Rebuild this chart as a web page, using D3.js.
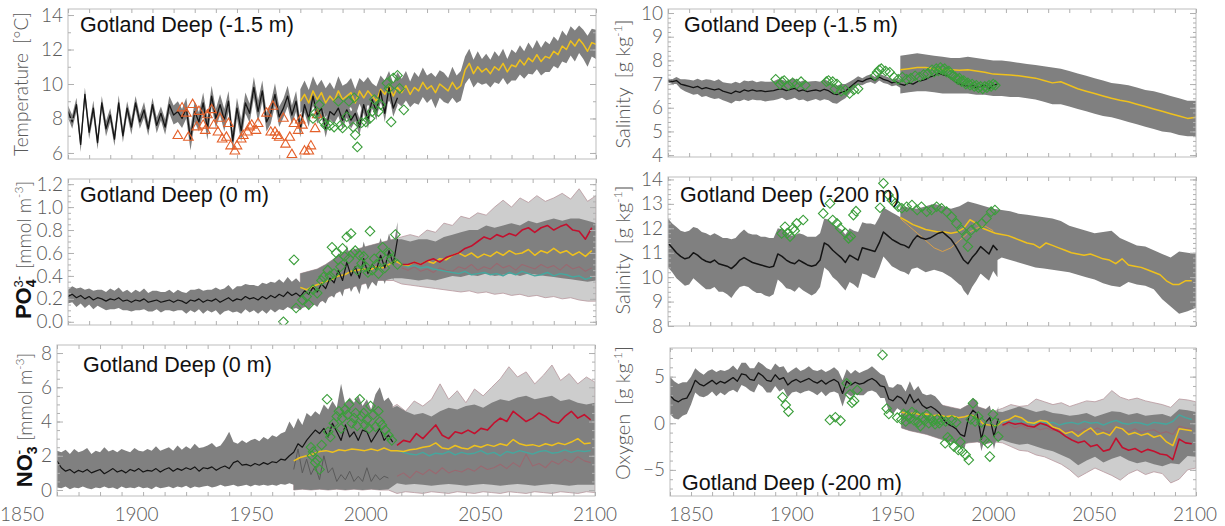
<!DOCTYPE html>
<html><head><meta charset="utf-8">
<script src="https://cdn.jsdelivr.net/npm/d3@7"></script>
<style>
body{margin:0;background:#fff;}
svg{display:block;}
</style></head><body>
<svg id="chart" width="1225" height="526"></svg>
<script>
// ---------- data: Gotland Deep, hindcast 1850-2006 (2-yr steps) and scenarios 1960-2100 ----------
const hindStart = 1850, hindStep = 2;

// Surface temperature (-1.5 m)
const tempHind = [8.4,7.8,8.8,6.5,9.4,7.2,8.6,6.6,8.9,7.4,8.2,6.8,8.9,7.0,8.6,7.5,8.9,7.8,8.5,7.4,8.8,7.6,8.3,7.5,8.8,
  8.2,8.4,8.0,8.6,6.8,8.4,7.8,8.9,7.4,9.3,8.0,8.8,7.9,9.0,6.7,8.6,7.3,8.9,8.3,9.8,8.4,9.6,7.8,8.3,9.4,
  8.1,8.6,9.3,8.2,9.0,7.4,8.8,8.0,9.3,8.2,8.6,7.4,8.4,8.2,8.6,7.9,8.5,7.9,8.3,7.5,8.8,7.9,9.1,8.4,9.6,
  8.3,9.8,8.6,9.2];
const tempHindSpread = [0.35,0.4,0.4,0.45,0.4,0.4,0.45,0.4,0.4,0.45,0.4,0.4,0.45,0.4,0.4,0.45,0.4,0.4,0.45,0.4,0.4,0.45,0.4,0.45,0.5,
  0.55,0.6,0.55,0.6,0.65,0.6,0.55,0.6,0.65,0.6,0.55,0.6,0.65,0.6,0.55,0.6,0.65,0.6,0.55,0.6,0.65,0.6,0.55,0.6,0.65,
  0.6,0.55,0.6,0.55,0.6,0.5,0.45,0.5,0.45,0.5,0.45,0.5,0.45,0.5,0.45,0.5,0.45,0.5,0.45,0.5,0.45,0.5,0.45,0.5,0.45,
  0.5,0.45,0.5,0.45];
const tempScen = [9.0,9.4,8.9,9.6,9.1,9.5,8.9,9.3,9.0,9.6,9.1,9.3,9.5,8.9,9.6,9.2,9.6,9.3,9.0,9.7,
  9.4,9.9,9.3,9.8,9.5,9.9,9.4,9.8,9.6,10.1,9.7,9.9,9.5,10.0,9.8,9.6,10.1,9.7,9.9,10.8,
  11.2,10.6,11.0,10.7,10.9,10.6,11.0,10.8,11.2,10.7,11.1,11.0,11.4,11.1,11.5,11.3,11.7,11.3,11.6,11.5,
  11.9,11.7,12.2,12.0,12.5,12.2,12.6,12.3,11.9,12.4,12.3];
const tempScenSpread = [0.7,0.8,0.75,0.85,0.8,0.75,0.85,0.8,0.7,0.85,0.8,0.75,0.85,0.8,0.75,0.9,0.8,0.75,0.85,0.8,
  0.8,0.85,0.75,0.9,0.8,0.85,0.75,0.9,0.8,0.85,0.8,0.75,0.9,0.8,0.85,0.75,0.9,0.8,0.85,0.8,
  0.85,0.8,0.9,0.75,0.85,0.8,0.9,0.8,0.85,0.75,0.9,0.8,0.85,0.8,0.9,0.75,0.85,0.8,0.9,0.8,
  0.85,0.8,0.9,0.8,0.85,0.9,0.8,0.85,0.9,0.8,0.85];
const tempObsA = [[1902,7.0],[1904,8.6],[1906,8.3],[1907,6.9],[1909,8.8],[1911,7.5],[1912,8.4],[1914,7.6],[1915,7.3],[1916,8.2],
  [1918,8.5],[1919,7.6],[1921,7.2],[1922,8.0],[1923,6.8],[1925,6.9],[1926,7.7],[1927,6.4],[1929,6.1],[1930,6.4],[1932,6.8],
  [1933,7.0],[1935,7.2],[1936,7.5],[1937,7.6],[1939,7.3],[1940,7.7],[1944,8.3],[1946,7.2],[1947,8.7],[1948,7.2],[1949,7.0],
  [1950,6.9],[1952,8.0],[1953,6.5],[1955,6.9],[1956,5.9],[1957,7.7],[1959,7.3],[1960,7.9],[1961,7.6],[1962,6.1],[1964,6.1],
  [1965,6.4],[1967,7.4],[1968,8.2]];
const tempObsB = [[1966,8.0],[1967,8.3],[1969,8.8],[1971,7.8],[1972,7.6],[1974,7.6],[1976,7.5],[1978,9.0],[1979,7.6],[1980,7.45],
  [1982,8.1],[1983,9.0],[1985,7.5],[1985.5,9.2],[1986,7.05],[1987,6.35],[1989,7.75],[1991,7.8],[1993,8.0],[1994,8.4],[1995,9.1],
  [1997,8.4],[1998,8.8],[2001,10.05],[2002,9.75],[2003,7.8],[2004,10.35],[2006,10.5],[2007,9.75],[2009,8.5]];

// Surface salinity (-1.5 m)
const salSHind = [7.15,7.1,7.15,7.0,6.95,6.9,6.85,6.9,6.8,6.85,6.8,6.75,6.8,6.7,6.65,6.6,6.7,6.65,6.75,6.7,6.75,6.7,6.72,6.68,6.7,
  6.72,6.78,6.8,6.72,6.78,6.82,6.7,6.75,6.68,6.72,6.75,6.7,6.78,6.72,6.6,6.55,6.65,6.7,6.85,7.0,7.15,7.1,7.2,7.25,7.15,
  7.3,7.2,7.15,7.05,7.1,7.0,6.95,7.05,7.0,7.1,7.15,7.2,7.3,7.35,7.45,7.4,7.35,7.25,7.1,7.0,6.95,6.9,6.95,6.85,6.9,
  6.95,6.8,6.95,7.0];
const salSHindSpread = [0.08,0.1,0.15,0.2,0.25,0.28,0.3,0.32,0.35,0.35,0.38,0.38,0.4,0.38,0.4,0.42,0.4,0.38,0.4,0.42,0.4,0.38,0.4,0.42,0.4,
  0.4,0.42,0.38,0.4,0.42,0.4,0.38,0.4,0.42,0.4,0.38,0.4,0.42,0.4,0.4,0.38,0.35,0.3,0.25,0.2,0.18,0.15,0.15,0.16,0.15,
  0.15,0.16,0.15,0.14,0.15,0.16,0.15,0.14,0.15,0.16,0.15,0.14,0.15,0.16,0.15,0.14,0.15,0.16,0.15,0.14,0.15,0.16,0.15,0.14,0.15,
  0.15,0.16,0.15,0.14];
const salSScen = [7.6,7.65,7.7,7.7,7.65,7.62,7.6,7.58,7.6,7.55,7.5,7.42,7.4,7.38,7.35,7.3,7.25,7.15,7.05,7.1,
  6.95,6.8,6.7,6.6,6.5,6.4,6.32,6.25,6.15,6.05,5.95,5.85,5.75,5.65,5.55,5.6];
const salSScenHi = [8.2,8.25,8.3,8.25,8.2,8.15,8.1,8.1,8.15,8.1,8.05,8.0,8.0,7.95,7.9,7.85,7.8,7.75,7.7,7.65,
  7.55,7.45,7.35,7.25,7.15,7.05,7.0,6.95,6.85,6.75,6.7,6.6,6.5,6.4,6.3,6.3];
const salSScenLo = [6.6,6.65,6.7,6.7,6.65,6.6,6.6,6.6,6.6,6.55,6.55,6.5,6.5,6.45,6.45,6.4,6.35,6.25,6.15,6.15,
  6.05,5.95,5.85,5.75,5.65,5.6,5.5,5.4,5.3,5.2,5.1,5.0,4.95,4.85,4.8,4.8];
const salSObs = [[1901,7.2],[1903,7.0],[1904,7.1],[1905,7.15],[1907,6.95],[1909,7.05],[1911,7.0],[1913,7.1],[1915,6.95],[1925,7.1],
  [1926,7.15],[1928,7.1],[1929,6.8],[1930,7.0],[1932,6.7],[1934,6.75],[1936,6.6],[1938,6.75],[1940,6.8],[1948,7.35],[1949,7.5],
  [1950,7.6],[1951,7.65],[1953,7.55],[1955,7.5],[1957,7.3],[1959,7.2],[1961,7.3],[1963,7.2],[1965,7.25],[1967,7.35],[1969,7.3],
  [1971,7.4],[1973,7.45],[1975,7.6],[1976,7.5],[1977,7.65],[1978,7.55],[1979,7.7],[1980,7.6],[1981,7.65],[1982,7.5],[1983,7.55],
  [1984,7.4],[1985,7.35],[1986,7.3],[1987,7.2],[1988,7.25],[1989,7.1],[1990,7.15],[1991,7.0],[1992,7.05],[1993,6.95],[1994,7.0],
  [1995,6.9],[1996,6.95],[1997,6.85],[1998,6.9],[1999,6.8],[2000,6.9],[2001,6.85],[2002,6.95],[2003,6.9],[2004,7.0],[2005,6.95]];

// Surface phosphate (0 m)
const po4Hind = [0.22,0.24,0.21,0.23,0.2,0.22,0.19,0.21,0.2,0.18,0.2,0.19,0.21,0.18,0.19,0.17,0.19,0.18,0.2,0.17,0.18,0.19,0.17,0.18,0.19,
  0.17,0.19,0.18,0.16,0.19,0.18,0.2,0.17,0.19,0.18,0.2,0.17,0.19,0.21,0.18,0.2,0.19,0.22,0.2,0.21,0.19,0.22,0.2,0.23,0.21,
  0.24,0.22,0.26,0.23,0.25,0.22,0.27,0.24,0.3,0.26,0.33,0.29,0.38,0.34,0.45,0.36,0.52,0.4,0.48,0.38,0.55,0.42,0.5,0.45,0.58,
  0.47,0.62,0.5,0.72];
const po4HindSpread = [0.06,0.07,0.08,0.07,0.08,0.07,0.08,0.07,0.08,0.08,0.09,0.08,0.09,0.08,0.09,0.08,0.09,0.08,0.09,0.08,0.09,0.08,0.09,0.08,0.09,
  0.08,0.09,0.08,0.09,0.09,0.1,0.09,0.1,0.09,0.1,0.1,0.11,0.1,0.11,0.1,0.11,0.12,0.11,0.12,0.11,0.12,0.12,0.13,0.12,0.13,
  0.13,0.12,0.13,0.12,0.13,0.12,0.13,0.13,0.14,0.13,0.14,0.13,0.14,0.13,0.15,0.14,0.15,0.14,0.15,0.14,0.15,0.14,0.15,0.14,0.15,
  0.14,0.15,0.14,0.15];
// scenario lines: ensemble mean 1960-2098 (3-yr), individual runs 2008-2098 (3-yr)
const po4Mean = [0.3,0.28,0.31,0.33,0.35,0.37,0.4,0.41,0.44,0.45,0.46,0.45,0.48,0.47,0.5,0.53,0.5,0.49,0.52,0.5,
  0.53,0.51,0.55,0.54,0.58,0.6,0.57,0.6,0.56,0.59,0.57,0.61,0.58,0.62,0.59,0.6,0.63,0.58,0.62,0.6,
  0.64,0.6,0.62,0.58,0.61,0.57,0.62];
const po4High = [0.5,0.5,0.52,0.5,0.53,0.55,0.52,0.56,0.58,0.6,0.64,0.66,0.7,0.74,0.72,0.76,0.74,0.77,0.75,0.8,
  0.82,0.78,0.82,0.84,0.8,0.83,0.85,0.8,0.79,0.72,0.82];
const po4Low = [0.5,0.48,0.49,0.47,0.48,0.46,0.45,0.44,0.43,0.42,0.44,0.41,0.42,0.43,0.41,0.42,0.4,0.43,0.41,0.44,
  0.42,0.4,0.41,0.43,0.4,0.42,0.41,0.39,0.4,0.37,0.39];
const po4Mid = [0.47,0.45,0.48,0.44,0.46,0.43,0.47,0.45,0.44,0.48,0.46,0.5,0.45,0.48,0.46,0.51,0.47,0.49,0.45,0.5,
  0.48,0.46,0.5,0.47,0.49,0.45,0.5,0.46,0.48,0.44,0.47];
// scenario envelopes 1960-2100 (4-yr)
const po4EnvHi = [0.42,0.44,0.46,0.5,0.55,0.6,0.62,0.64,0.66,0.68,0.7,0.72,0.72,0.7,0.72,0.72,0.7,0.74,0.76,0.78,
  0.8,0.8,0.84,0.82,0.84,0.86,0.84,0.88,0.86,0.88,0.9,0.88,0.9,0.9,0.88,0.86];
const po4EnvLo = [0.12,0.14,0.16,0.2,0.24,0.28,0.3,0.32,0.34,0.36,0.36,0.38,0.38,0.37,0.36,0.37,0.36,0.38,0.4,0.39,
  0.41,0.4,0.42,0.4,0.41,0.42,0.4,0.42,0.41,0.4,0.39,0.38,0.37,0.36,0.35,0.36];
const po4RangeHi = [0.42,0.44,0.46,0.5,0.55,0.6,0.62,0.64,0.66,0.68,0.7,0.72,0.74,0.76,0.74,0.8,0.78,0.86,0.84,0.92,
  0.9,0.95,0.93,1.0,1.06,1.0,1.08,1.04,1.1,1.05,1.08,1.12,1.07,1.16,1.05,1.1];
const po4RangeLo = [0.12,0.14,0.16,0.2,0.24,0.28,0.3,0.32,0.34,0.36,0.36,0.36,0.33,0.32,0.31,0.3,0.29,0.28,0.27,0.26,
  0.27,0.25,0.26,0.24,0.25,0.23,0.24,0.22,0.23,0.21,0.22,0.2,0.21,0.19,0.18,0.18];
const po4Obs = [[1952,0.0],[1957,0.54],[1958,0.12],[1961,0.19],[1963,0.22],[1964,0.15],[1966,0.28],[1968,0.25],[1970,0.36],[1971,0.39],
  [1973,0.45],[1974,0.4],[1975,0.65],[1976,0.42],[1977,0.6],[1978,0.54],[1979,0.48],[1980,0.64],[1981,0.57],[1982,0.74],[1983,0.55],
  [1984,0.77],[1985,0.6],[1986,0.62],[1987,0.45],[1988,0.58],[1989,0.51],[1990,0.57],[1991,0.48],[1992,0.43],[1993,0.79],[1994,0.45],
  [1995,0.55],[1996,0.5],[1997,0.42],[1998,0.58],[1999,0.65],[2000,0.47],[2002,0.6],[2003,0.55],[2005,0.76],[2006,0.5]];

// Deep salinity (-200 m)
const salDHind = [11.4,11.2,11.0,10.85,10.75,10.8,11.0,10.9,10.75,10.65,10.6,10.7,10.55,10.5,10.45,10.35,10.5,10.7,10.8,10.7,10.6,10.55,10.5,10.45,10.4,
  10.45,10.95,10.85,10.7,10.6,10.55,10.7,10.6,10.5,10.45,10.5,10.7,11.4,11.3,11.1,10.95,10.8,10.6,10.9,10.8,10.7,11.2,11.15,11.1,11.05,
  11.4,11.85,11.7,11.55,11.45,11.35,11.3,11.2,11.5,11.7,11.6,11.55,11.6,11.7,11.8,11.85,11.7,11.55,11.3,11.0,10.7,10.55,10.8,11.0,11.25,
  11.1,10.95,11.3,11.1];
const salDHindSpread = [1.0,1.0,1.05,1.05,1.1,1.1,1.05,1.1,1.1,1.15,1.1,1.1,1.15,1.1,1.15,1.2,1.1,1.1,1.15,1.1,1.15,1.2,1.15,1.2,1.2,
  1.15,1.05,1.1,1.15,1.1,1.15,1.1,1.15,1.15,1.2,1.15,1.1,1.0,1.05,1.1,1.1,1.15,1.15,1.1,1.1,1.15,1.05,1.05,1.1,1.1,
  1.05,1.0,1.05,1.1,1.1,1.1,1.1,1.1,1.05,1.05,1.1,1.1,1.1,1.1,1.1,1.05,1.1,1.1,1.15,1.2,1.25,1.3,1.2,1.15,1.1,
  1.1,1.1,1.05,1.1];
const salDScen = [12.45,12.3,12.15,12.05,11.95,11.9,11.85,11.85,11.8,11.85,12.0,12.35,12.2,12.0,11.9,11.8,11.75,11.7,11.6,11.5,
  11.4,11.35,11.2,11.4,11.3,11.2,11.1,11.0,10.95,10.9,10.95,10.85,10.75,10.7,10.55,10.75,10.5,10.45,10.4,10.3,
  10.2,10.1,9.85,9.7,9.7,9.85,9.85];
const salDScenHi = [12.9,12.85,12.8,12.9,13.0,12.9,12.8,12.9,13.1,13.0,12.9,12.8,12.75,12.7,12.6,12.55,12.5,12.45,12.4,12.3,
  12.1,12.0,11.9,11.8,11.85,11.9,11.6,11.45,11.3,11.25,11.1,10.95,10.8,11.05,11.0,10.95];
const salDScenLo = [10.4,10.3,10.4,10.2,10.3,10.2,10.0,9.7,9.5,10.0,10.3,10.6,10.8,10.7,10.6,10.5,10.4,10.35,10.3,10.25,
  10.2,10.1,10.0,9.9,9.75,9.65,9.6,9.8,9.7,9.65,9.5,9.1,8.8,8.5,8.6,8.75];
const salDRun = [12.4,12.1,11.8,11.5,11.2,11.05,11.2,11.5,11.8,12.0,12.1,11.9];
const salDObs = [[1903.8,11.79],[1905.4,12.06],[1906.5,11.8],[1907.8,11.66],[1909.3,12.0],[1910,11.9],[1910.9,12.2],[1914,12.34],
  [1923.5,12.61],[1926.7,13.02],[1928,12.34],[1930,12.2],[1931.5,12.0],[1934,11.8],[1935.5,11.59],[1936.5,11.66],[1937.8,12.54],
  [1939,12.7],[1950.4,12.84],[1952,13.84],[1954.4,13.36],[1956,13.15],[1957.6,13.02],[1959,12.88],[1960.7,12.82],[1963,12.88],
  [1965.5,12.95],[1968,12.75],[1970,12.88],[1972.5,12.68],[1974.8,12.75],[1977.2,12.88],[1979.5,12.82],[1981.9,12.68],
  [1984.3,12.47],[1986.6,12.2],[1989,11.93],[1991.3,11.66],[1992,11.25],[1993.7,11.93],[1996,12.06],[1998.5,12.2],[2000.8,12.4],
  [2003,12.68],[2004.8,12.75]];

// Surface nitrate (0 m)
const no3Hind = [1.7,1.3,1.1,1.2,1.0,1.15,1.05,1.2,1.0,1.1,1.2,0.95,1.1,1.25,1.05,1.15,1.0,1.2,1.1,1.25,1.05,1.15,1.1,1.25,1.05,
  1.2,1.3,1.1,1.25,1.15,1.3,1.2,1.35,1.1,1.3,1.25,1.35,1.15,1.3,1.4,1.25,1.6,1.7,1.45,1.5,1.4,1.55,1.45,1.6,1.5,
  1.65,1.6,1.8,1.75,2.0,2.2,2.7,2.5,2.9,3.2,3.5,3.3,3.6,3.1,3.9,3.4,2.9,3.8,3.1,3.4,2.9,3.5,3.4,2.8,3.2,
  3.6,2.9,3.2,2.8];
const no3HindHi = [2.3,2.2,2.35,2.1,2.4,2.2,2.3,2.45,2.1,2.3,2.2,2.5,2.25,2.35,2.2,2.4,2.3,2.2,2.45,2.3,2.25,2.4,2.3,2.55,2.3,
  2.4,2.5,2.3,2.6,2.35,2.55,2.4,2.7,2.45,2.5,2.6,2.75,2.5,2.6,2.95,3.4,2.8,2.7,2.9,2.75,2.9,3.0,2.85,3.1,2.95,
  3.2,3.1,3.3,3.4,4.0,3.6,4.2,3.8,4.5,4.3,4.6,4.4,5.0,4.7,5.2,4.8,6.2,5.0,5.4,5.1,5.5,4.9,5.3,4.7,5.6,
  6.0,5.2,5.4,5.0];
const no3HindLo = [0.15,0.1,0.2,0.05,0.15,0.1,0.2,0.1,0.05,0.15,0.1,0.2,0.1,0.15,0.05,0.2,0.1,0.15,0.1,0.2,0.1,0.15,0.05,0.2,0.1,
  0.15,0.2,0.1,0.2,0.15,0.25,0.1,0.2,0.15,0.2,0.25,0.15,0.2,0.3,0.2,0.25,0.3,0.2,0.25,0.3,0.2,0.3,0.25,0.3,0.25,
  0.3,0.25,0.35,0.3,0.4,0.3,0.35,1.4,0.3,0.25,0.35,0.3,0.4,0.3,0.35,0.4,0.3,0.35,0.3,0.4,0.35,0.3,0.4,0.35,0.3,
  0.35,0.3,0.4,0.35];
const no3Mean = [1.7,1.9,2.0,2.1,2.25,2.3,2.2,2.35,2.3,2.4,2.35,2.3,2.4,2.3,2.45,2.3,2.3,2.25,2.35,2.4,
  2.5,2.55,2.75,2.45,2.4,2.6,2.45,2.4,2.6,2.5,2.65,2.55,2.7,2.6,2.95,2.7,2.6,2.65,2.55,2.7,
  2.6,2.75,2.65,2.8,3.0,2.7,2.75];
const no3High = [2.6,2.9,2.8,3.3,3.0,3.4,3.8,3.2,3.0,3.4,3.3,3.5,3.3,3.6,3.5,3.9,4.2,4.0,4.6,4.3,
  4.0,4.2,4.5,4.3,4.0,3.9,4.3,4.6,4.2,4.4,4.1];
const no3Low = [2.3,2.2,2.1,2.05,2.2,2.0,2.15,2.1,2.25,2.05,2.2,2.1,2.15,2.3,2.1,2.2,2.0,2.25,2.15,2.3,
  2.2,2.1,2.25,2.3,2.15,2.2,2.35,2.2,2.3,2.25,2.3];
const no3Mid = [0.8,1.0,0.7,1.1,0.9,1.2,0.95,1.3,1.0,1.15,1.05,1.25,1.1,1.4,1.2,1.3,1.5,1.25,1.6,1.35,
  2.1,1.4,1.55,1.3,1.7,1.5,1.8,1.6,1.95,1.7,1.6];
const no3Run = [1.2,2.4,1.0,1.8,0.9,1.4,0.6,2.0,1.0,1.3,0.5,0.9,0.6,1.1,0.5,0.8,0.5,1.3,0.5,0.9,0.6,0.8,0.7];
const no3EnvHi = [2.4,3.0,3.6,3.8,4.0,4.2,4.3,4.4,4.3,4.5,4.6,4.7,4.9,4.6,4.4,4.5,4.3,4.6,4.8,4.7,
  4.9,5.0,4.8,5.1,5.3,5.2,5.4,5.5,5.3,5.4,5.5,5.2,5.3,5.1,5.0,5.1];
const no3EnvLo = [0.0,0.05,0.0,0.05,0.0,0.05,0.0,0.05,0.0,0.05,0.0,0.05,0.4,0.3,0.35,0.3,0.25,0.3,0.35,0.3,
  0.25,0.3,0.35,0.3,0.25,0.3,0.35,0.3,0.25,0.3,0.35,0.3,0.25,0.3,0.3,0.3];
const no3RangeHi = [2.4,3.0,3.6,3.8,4.0,4.2,4.3,4.4,4.3,4.5,4.6,4.7,5.0,4.6,5.2,4.9,5.3,6.2,5.3,5.8,
  5.1,5.9,5.5,6.0,6.5,7.2,6.6,6.9,6.2,6.7,7.3,6.4,6.8,6.2,6.6,6.3];
const no3RangeLo = [0.0,0.05,0.0,0.05,0.0,0.05,0.0,0.05,0.0,0.05,0.0,0.0,-0.2,-0.1,-0.15,-0.2,-0.1,-0.15,-0.2,-0.1,
  -0.15,-0.2,-0.1,-0.15,-0.2,-0.1,-0.15,-0.2,-0.1,-0.15,-0.2,-0.1,-0.15,-0.2,-0.1,-0.15];
const no3Obs = [[1968,2.5],[1968.5,2.0],[1969,2.24],[1970,1.6],[1971,1.75],[1972,1.2],[1973,2.63],[1975.5,5.3],[1976,3.4],[1977,3.1],
  [1978.6,3.9],[1980,4.3],[1981,4.6],[1982,3.6],[1982.6,4.2],[1984,4.7],[1985,4.4],[1985.7,5.0],[1987,3.9],[1988,4.2],[1988.8,4.5],
  [1989.5,3.74],[1990.7,5.3],[1991.5,4.3],[1992.5,4.5],[1993,3.8],[1994,4.1],[1995,3.6],[1995.7,4.9],[1997,4.4],[1998,3.7],
  [1999.3,4.6],[2000,4.0],[2001,3.8],[2002.5,3.5],[2004,3.2],[2005.6,2.9]];

// Deep oxygen (-200 m)
const oxyHind = [3.0,2.5,2.3,2.6,2.7,3.5,4.6,4.2,4.0,4.3,4.6,4.2,4.5,4.3,4.6,4.9,4.5,5.3,5.2,4.7,4.6,5.4,5.1,4.6,4.5,
  5.2,4.7,4.9,4.1,4.5,4.7,4.4,4.6,4.8,4.5,4.3,4.6,4.2,4.5,4.7,4.4,3.2,4.5,4.1,4.4,4.2,4.3,4.6,4.8,4.5,
  4.0,3.9,2.6,2.4,2.9,2.7,2.1,3.1,2.2,2.6,1.9,1.6,1.8,1.5,1.1,0.4,-0.1,-0.3,-0.6,-1.2,-1.4,0.7,1.4,1.0,-1.7,
  0.1,0.6,-1.4,0.5];
const oxyHindSpread = [2.0,2.0,1.9,1.8,1.7,1.5,1.3,1.3,1.2,1.3,1.2,1.3,1.2,1.3,1.2,1.3,1.2,1.2,1.3,1.2,1.3,1.2,1.2,1.3,1.2,
  1.2,1.3,1.2,1.3,1.2,1.3,1.2,1.2,1.3,1.2,1.3,1.2,1.3,1.2,1.3,1.2,1.4,1.3,1.2,1.3,1.2,1.3,1.2,1.3,1.2,
  1.3,1.2,1.3,1.4,1.3,1.4,1.3,1.4,1.3,1.4,1.3,1.4,1.3,1.4,1.3,1.4,1.3,1.4,1.3,1.4,1.3,1.4,1.3,1.4,1.3,
  1.4,1.3,1.4,1.3];
const oxyMean = [1.2,1.0,1.1,0.9,1.0,0.8,0.9,0.7,0.8,0.6,0.7,0.9,0.6,-0.1,-0.2,-0.3,0.2,0.4,0.8,0.6,
  0.1,0.0,0.3,0.2,-0.4,-0.6,-1.1,-0.9,-1.4,-0.9,-0.5,-1.2,-1.0,-1.3,-0.4,-0.6,-1.2,-1.0,-1.3,-1.1,
  -1.5,-1.3,-2.0,-2.4,-0.6,-0.7,-0.8];
const oxyHigh = [-0.2,0.1,-0.1,0.0,-0.3,-0.4,0.0,-0.2,-0.6,-0.9,-1.4,-1.8,-2.1,-1.9,-2.5,-2.3,-3.0,-2.8,-1.6,-2.6,
  -2.9,-2.7,-3.1,-2.8,-3.0,-3.3,-3.4,-3.9,-1.7,-2.1,-2.2];
const oxyLow = [0.2,0.0,0.3,0.1,0.2,-0.1,0.2,0.0,0.1,-0.2,0.0,0.1,-0.1,0.2,0.0,0.1,-0.2,0.1,0.3,0.0,
  -0.1,0.1,0.0,-0.2,0.1,0.0,-0.1,0.2,0.9,0.6,0.4];
const oxyMid = [-0.3,-0.1,-0.5,-0.2,-0.6,-0.4,-0.7,-0.5,-0.8,-0.6,-0.9,-0.7,-1.0,-0.6,-0.9,-0.5,-0.8,-1.0,-0.4,-0.7,
  -0.9,-0.6,-1.0,-0.8,-0.7,-1.1,-0.9,-1.2,-0.3,-0.5,-0.6];
const oxyEnvHi = [3.0,3.2,2.8,2.6,2.3,1.9,1.7,1.5,2.0,1.8,1.5,1.3,1.2,1.5,1.8,1.5,1.2,1.4,1.1,1.0,
  0.8,0.9,1.1,0.7,1.0,1.3,1.2,0.9,1.1,0.8,0.9,1.0,0.7,1.5,1.4,1.2];
const oxyEnvLo = [-0.5,-0.8,-1.0,-1.2,-1.5,-1.8,-2.0,-2.3,-2.1,-2.0,-2.2,-2.0,-1.8,-2.1,-2.3,-2.2,-2.5,-2.8,-3.0,-3.4,
  -3.8,-4.5,-4.0,-3.6,-4.2,-3.8,-3.5,-4.0,-4.3,-4.1,-4.4,-4.6,-4.3,-4.4,-3.5,-3.6];
const oxyRangeHi = [3.0,3.2,2.8,2.6,2.3,1.9,1.7,1.5,2.0,1.8,1.5,1.3,1.6,2.0,1.8,1.9,2.6,2.3,2.0,2.2,
  1.8,2.1,2.4,2.3,2.6,3.5,2.8,2.5,2.7,2.4,2.2,2.0,1.7,2.6,2.5,2.3];
const oxyRangeLo = [-0.5,-0.8,-1.0,-1.2,-1.5,-1.8,-2.0,-2.3,-2.1,-2.0,-2.2,-2.0,-2.1,-2.5,-2.9,-3.0,-3.4,-3.6,-4.0,-4.4,
  -5.0,-5.8,-5.3,-4.8,-5.2,-5.6,-6.1,-5.4,-5.0,-5.5,-5.2,-5.4,-6.4,-6.0,-5.0,-4.8];
const oxyObs = [[1903.5,2.78],[1905,1.96],[1906.3,1.25],[1926,0.36],[1928.6,0.64],[1931,0.29],[1934,4.29],[1935.5,3.1],[1936.5,2.2],
  [1937.5,2.4],[1939,3.57],[1951,7.32],[1953,1.57],[1954,1.0],[1958,0.6],[1960,0.4],[1961,1.0],[1962,0.2],[1963,0.8],[1964,0.5],
  [1965,1.2],[1966,0.3],[1967,0.9],[1968,0.1],[1969,-0.3],[1970,0.6],[1971,0.3],[1972,0.9],[1973,0.0],[1974,0.5],[1975,0.2],
  [1976,-0.1],[1977,0.4],[1978,0.0],[1979,0.3],[1980.8,-2.14],[1981,0.2],[1982,-1.5],[1983,-1.79],[1984,0.3],[1985,-2.5],
  [1986,0.1],[1987,-2.86],[1988,-2.0],[1989,-3.04],[1990.5,-3.39],[1992,-3.93],[1993,0.4],[1994,2.14],[1995,0.2],[1996.5,0.71],
  [1998,0.1],[1999.5,-1.79],[2001,-2.14],[2002,-3.57],[2003.5,0.96],[2004.5,0.1],[2006,-1.43]];

const yearTicks = [1850,1900,1950,2000,2050,2100];

// ---------- helpers turning the arrays into dated records ----------
const series = (start, step, vals) => vals.map((v,i) => ({year:start+i*step, v}));
const bandLoHi = (start, step, lo, hi) => lo.map((l,i) => ({year:start+i*step, lo:l, hi:hi[i]}));
const bandSpread = (start, step, mid, sp) => mid.map((m,i) => ({year:start+i*step, lo:m-sp[i], hi:m+sp[i]}));
const points = arr => arr.map(([year,v]) => ({year, v}));

// ---------- styling ----------
const C = {
  dark:'#808080', light:'#cdcdcd', lightEdge:'#b8979d', black:'#141414', yellow:'#efc11c',
  red:'#c3102e', teal:'#45a79e', mauve:'#9a6870', green:'#3b9e3b', orange:'#e4602a',
  frame:'#bdbdbd', tick:'#b0b0b0', label:'#5a5a5a'
};
const FONT_TICK = "Lato, 'DejaVu Sans', sans-serif";
const FONT_TITLE = "'Liberation Sans', Arial, sans-serif";

const svg = d3.select('#chart');

// ---------- panel layout ----------
const panels = [
  { id:'temp', x0:68, x1:596, y0:9, y1:159, dom:[5.65,14.35],
    major:[6,8,10,12,14], minor:d3.range(6,14.01,1), fmt:d3.format('d'),
    title:'Gotland Deep (-1.5 m)', tx:80, ty:32,
    bands:[ {d:bandSpread(1960,2,tempScen,tempScenSpread), fill:C.dark},
            {d:bandSpread(hindStart,hindStep,tempHind,tempHindSpread), fill:C.dark} ],
    lines:[ {d:series(1960,2,tempScen), c:C.yellow, w:1.5},
            {d:series(hindStart,hindStep,tempHind), c:C.black, w:1.3} ],
    marks:[ {d:points(tempObsA), type:'tri', c:C.orange},
            {d:points(tempObsB), type:'dia', c:C.green} ] },
  { id:'salS', x0:668, x1:1196, y0:9, y1:157, dom:[3.92,10.17],
    major:[4,5,6,7,8,9,10], minor:d3.range(4,10.01,0.2), fmt:d3.format('d'),
    title:'Gotland Deep (-1.5 m)', tx:684, ty:32,
    bands:[ {d:bandSpread(hindStart,hindStep,salSHind,salSHindSpread), fill:C.dark},
            {d:bandLoHi(1960,4,salSScenLo,salSScenHi), fill:C.dark} ],
    lines:[ {d:series(1960,4,salSScen), c:C.yellow, w:1.5},
            {d:series(hindStart,hindStep,salSHind), c:C.black, w:1.3} ],
    marks:[ {d:points(salSObs), type:'dia', c:C.green} ] },
  { id:'po4', x0:68, x1:596, y0:179, y1:325, dom:[-0.028,1.245],
    major:[0,0.2,0.4,0.6,0.8,1.0,1.2], minor:d3.range(0,1.201,0.05), fmt:d3.format('.1f'),
    title:'Gotland Deep (0 m)', tx:80, ty:202,
    bands:[ {d:bandLoHi(1960,4,po4RangeLo,po4RangeHi), fill:C.light, stroke:C.lightEdge},
            {d:bandLoHi(1960,4,po4EnvLo,po4EnvHi), fill:C.dark},
            {d:bandSpread(hindStart,hindStep,po4Hind,po4HindSpread), fill:C.dark} ],
    lines:[ {d:series(2008,3,po4Mid), c:C.mauve, w:1.1},
            {d:series(2008,3,po4Low), c:C.teal, w:1.4},
            {d:series(1960,3,po4Mean), c:C.yellow, w:1.5},
            {d:series(2008,3,po4High), c:C.red, w:1.6},
            {d:series(hindStart,hindStep,po4Hind), c:C.black, w:1.2} ],
    marks:[ {d:points(po4Obs), type:'dia', c:C.green} ] },
  { id:'salD', x0:668, x1:1196, y0:177, y1:326, dom:[8,14.1],
    major:[8,9,10,11,12,13,14], minor:d3.range(8,14.01,0.2), fmt:d3.format('d'),
    title:'Gotland Deep (-200 m)', tx:680, ty:202,
    bands:[ {d:bandSpread(hindStart,hindStep,salDHind,salDHindSpread), fill:C.dark},
            {d:bandLoHi(1960,4,salDScenLo,salDScenHi), fill:C.dark} ],
    lines:[ {d:series(1960,4,salDRun), c:'#d9a04a', w:1},
            {d:series(1960,3,salDScen), c:C.yellow, w:1.5},
            {d:series(hindStart,hindStep,salDHind), c:C.black, w:1.5} ],
    marks:[ {d:points(salDObs), type:'dia', c:C.green} ] },
  { id:'no3', x0:57, x1:595, y0:345, y1:496, dom:[-0.35,8.47],
    major:[0,2,4,6,8], minor:d3.range(0,8.01,0.5), fmt:d3.format('d'),
    title:'Gotland Deep (0 m)', tx:83, ty:372,
    bands:[ {d:bandLoHi(1960,4,no3RangeLo,no3RangeHi), fill:C.light, stroke:C.lightEdge},
            {d:bandLoHi(1960,4,no3EnvLo,no3EnvHi), fill:C.dark},
            {d:bandLoHi(hindStart,hindStep,no3HindLo,no3HindHi), fill:C.dark} ],
    lines:[ {d:series(1960,2,no3Run), c:'#5a5a5a', w:1},
            {d:series(2008,3,no3Mid), c:C.mauve, w:1.1},
            {d:series(2008,3,no3Low), c:C.teal, w:1.4},
            {d:series(1960,3,no3Mean), c:C.yellow, w:1.5},
            {d:series(2008,3,no3High), c:C.red, w:1.6},
            {d:series(hindStart,hindStep,no3Hind), c:C.black, w:1.2} ],
    marks:[ {d:points(no3Obs), type:'dia', c:C.green} ] },
  { id:'oxy', x0:670, x1:1196, y0:348, y1:496, dom:[-7.8,8.07],
    major:[-5,0,5], minor:d3.range(-7,8.01,1), fmt:d => d < 0 ? '\u2212' + Math.abs(d) : String(d),
    title:'Gotland Deep (-200 m)', tx:682, ty:490,
    bands:[ {d:bandLoHi(1960,4,oxyRangeLo,oxyRangeHi), fill:C.light, stroke:C.lightEdge},
            {d:bandLoHi(1960,4,oxyEnvLo,oxyEnvHi), fill:C.dark},
            {d:bandSpread(hindStart,hindStep,oxyHind,oxyHindSpread), fill:C.dark} ],
    lines:[ {d:series(2008,3,oxyMid), c:C.mauve, w:1.1},
            {d:series(2008,3,oxyLow), c:C.teal, w:1.4},
            {d:series(1960,3,oxyMean), c:C.yellow, w:1.5},
            {d:series(2008,3,oxyHigh), c:C.red, w:1.6},
            {d:series(hindStart,hindStep,oxyHind), c:C.black, w:1.3} ],
    marks:[ {d:points(oxyObs), type:'dia', c:C.green} ] }
];

function drawPanel(p) {
  const x = d3.scaleLinear().domain([1850,2100]).range([p.x0,p.x1]);
  const y = d3.scaleLinear().domain(p.dom).range([p.y1,p.y0]);
  const g = svg.append('g').attr('class','panel-'+p.id);
  svg.append('clipPath').attr('id','clip-'+p.id)
    .append('rect').attr('x',p.x0).attr('y',p.y0).attr('width',p.x1-p.x0).attr('height',p.y1-p.y0);
  const plot = g.append('g').attr('clip-path',`url(#clip-${p.id})`);

  const area = d3.area().x(d=>x(d.year)).y0(d=>y(d.lo)).y1(d=>y(d.hi));
  const line = d3.line().x(d=>x(d.year)).y(d=>y(d.v));

  p.bands.forEach(b => plot.append('path').datum(b.d).attr('d',area)
    .attr('fill',b.fill).attr('stroke',b.stroke||'none').attr('stroke-width',b.stroke?0.8:0));
  p.lines.forEach(l => plot.append('path').datum(l.d).attr('d',line)
    .attr('fill','none').attr('stroke',l.c).attr('stroke-width',l.w).attr('stroke-linejoin','round'));

  const dia = d3.symbol(d3.symbolSquare, 46);
  const tri = d3.symbol(d3.symbolTriangle, 40);
  p.marks.forEach(m => plot.append('g').selectAll('path').data(m.d).join('path')
    .attr('d', m.type==='tri' ? tri : dia)
    .attr('transform', d => `translate(${x(d.year)},${y(d.v)})` + (m.type==='dia' ? ' rotate(45)' : ''))
    .attr('fill','none').attr('stroke',m.c).attr('stroke-width',1.1));

  // frame
  g.append('rect').attr('x',p.x0).attr('y',p.y0).attr('width',p.x1-p.x0).attr('height',p.y1-p.y0)
    .attr('fill','none').attr('stroke',C.frame).attr('stroke-width',1);

  const style = sel => { sel.select('.domain').remove(); sel.selectAll('line').attr('stroke',C.tick); };
  // y ticks: majors with labels on the left, minors on both sides
  g.append('g').attr('transform',`translate(${p.x0},0)`)
    .call(d3.axisLeft(y).tickValues(p.minor).tickSize(-3).tickFormat('')).call(style);
  g.append('g').attr('transform',`translate(${p.x1},0)`)
    .call(d3.axisRight(y).tickValues(p.minor).tickSize(-3).tickFormat('')).call(style);
  const ya = g.append('g').attr('transform',`translate(${p.x0},0)`)
    .call(d3.axisLeft(y).tickValues(p.major).tickSize(-6).tickPadding(5).tickFormat(p.fmt)).call(style);
  ya.selectAll('text').attr('font-family',FONT_TICK).attr('font-weight',300).attr('font-size',19).attr('fill',C.label);
  g.append('g').attr('transform',`translate(${p.x1},0)`)
    .call(d3.axisRight(y).tickValues(p.major).tickSize(-6).tickFormat('')).call(style);
  // year ticks every decade along top and bottom
  const decades = d3.range(1850,2101,10);
  g.append('g').attr('transform',`translate(0,${p.y1})`)
    .call(d3.axisBottom(x).tickValues(decades).tickSize(-4).tickFormat('')).call(style);
  g.append('g').attr('transform',`translate(0,${p.y0})`)
    .call(d3.axisTop(x).tickValues(decades).tickSize(-4).tickFormat('')).call(style);

  g.append('text').attr('x',p.tx).attr('y',p.ty).text(p.title)
    .attr('font-family',FONT_TITLE).attr('font-size',21.5).attr('fill','#111');
}
panels.forEach(drawPanel);

// ---------- year labels under each column ----------
function yearLabels(x0, x1) {
  const lx = d3.scaleLinear().domain([1850,2100]).range([x0,x1]);
  svg.append('g').selectAll('text').data(yearTicks).join('text')
    .attr('x', d => lx(d)).attr('y', 521).attr('text-anchor','middle')
    .attr('font-family',FONT_TICK).attr('font-weight',300).attr('font-size',19).attr('fill',C.label).text(d => d);
}
yearLabels(22, 595);
yearLabels(691, 1195);

// ---------- rotated axis titles ----------
function yTitle(cx, cy, parts, size) {
  const t = svg.append('text').attr('transform',`translate(${cx},${cy}) rotate(-90)`)
    .attr('text-anchor','middle').attr('font-family',FONT_TICK).attr('font-weight',300)
    .attr('font-size',size||19).attr('fill',C.label);
  parts.forEach(p => {
    const s = t.append('tspan').text(p.t);
    ['dx','dy','font-size','font-weight','fill','font-family'].forEach(k => { if (p[k] !== undefined) s.attr(k, p[k]); });
  });
}
yTitle(28, 84, [{t:'Temperature'}, {t:'[°C]', dx:9}]);
yTitle(630, 84, [{t:'Salinity'}, {t:'[g kg', dx:9}, {t:'-1', 'font-size':12, dy:-8}, {t:']', dy:8}], 20);
yTitle(31, 250, [{t:'PO', 'font-size':22, 'font-weight':'bold', fill:'#111', 'font-family':FONT_TITLE},
  {t:'4', 'font-size':14, 'font-weight':'bold', fill:'#111', dy:5, 'font-family':FONT_TITLE},
  {t:'3-', 'font-size':13, 'font-weight':'normal', fill:'#111', dx:-8, dy:-13, 'font-family':FONT_TITLE},
  {t:'[mmol m', dx:7, dy:8}, {t:'-3', 'font-size':12, dy:-8}, {t:']', dy:8}]);
yTitle(630, 250, [{t:'Salinity'}, {t:'[g kg', dx:9}, {t:'-1', 'font-size':12, dy:-8}, {t:']', dy:8}], 20);
yTitle(32, 420, [{t:'NO', 'font-size':22, 'font-weight':'bold', fill:'#111', 'font-family':FONT_TITLE},
  {t:'3', 'font-size':14, 'font-weight':'bold', fill:'#111', dy:5, 'font-family':FONT_TITLE},
  {t:'-', 'font-size':14, 'font-weight':'normal', fill:'#111', dx:-8, dy:-13, 'font-family':FONT_TITLE},
  {t:'[mmol m', dx:9, dy:8}, {t:'-3', 'font-size':12, dy:-8}, {t:']', dy:8}]);
yTitle(630, 413, [{t:'Oxygen'}, {t:'[g kg', dx:9}, {t:'-1', 'font-size':12, dy:-8}, {t:']', dy:8}], 20);
</script></body></html>
